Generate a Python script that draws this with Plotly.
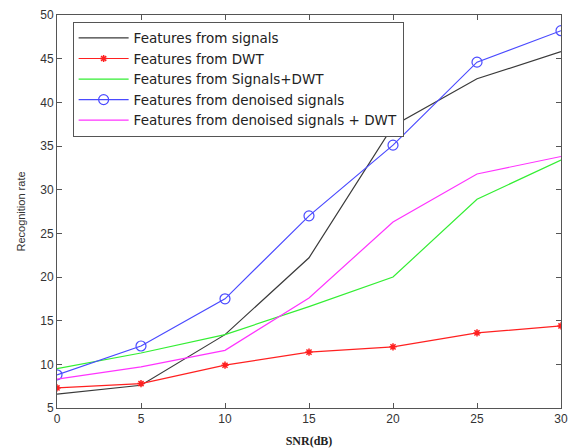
import plotly.graph_objects as go

snr = [0, 5, 10, 15, 20, 25, 30]
sig = [6.6, 7.6, 13.4, 22.2, 37.3, 42.7, 45.8]
dwt = [7.3, 7.8, 9.9, 11.4, 12.0, 13.6, 14.4]
sig_dwt = [9.5, 11.3, 13.4, 16.6, 20.0, 28.9, 33.4]
den = [8.8, 12.1, 17.5, 27.0, 35.1, 44.6, 48.2]
den_dwt = [8.3, 9.7, 11.6, 17.6, 26.3, 31.8, 33.8]

names = ["Features from signals", "Features from DWT", "Features from Signals+DWT",
         "Features from denoised signals", "Features from denoised signals + DWT"]

fig = go.Figure()
fig.add_trace(go.Scatter(x=snr, y=sig, name=names[0], mode="lines", legendgroup="a",
                         line=dict(color="#3a3a3a", width=1.2)))
fig.add_trace(go.Scatter(x=snr, y=dwt, name=names[1], mode="lines+markers", legendgroup="b",
                         line=dict(color="#ff2020", width=1.2),
                         marker=dict(symbol="asterisk-open", size=6, color="#ff2020",
                                     line=dict(color="#ff2020", width=1.5))))
fig.add_trace(go.Scatter(x=snr, y=sig_dwt, name=names[2], mode="lines", legendgroup="c",
                         line=dict(color="#33ee33", width=1.2)))
fig.add_trace(go.Scatter(x=snr, y=den, name=names[3], mode="lines+markers", legendgroup="d",
                         line=dict(color="#4a4aff", width=1.2),
                         marker=dict(symbol="circle-open", size=10, color="#4a4aff",
                                     line=dict(color="#4a4aff", width=1.2))))
fig.add_trace(go.Scatter(x=snr, y=den_dwt, name=names[4], mode="lines", legendgroup="e",
                         line=dict(color="#ff33ff", width=1.2)))

axis_common = dict(showline=True, linecolor="#555555", linewidth=1, mirror="ticks",
                   ticks="inside", ticklen=5, tickcolor="#555555", showgrid=False,
                   zeroline=False, automargin=False,
                   tickfont=dict(family="Liberation Sans, Arial", size=12, color="#333333"))
fig.update_layout(
    width=572, height=448,
    margin=dict(l=57, r=11, t=15, b=40),
    plot_bgcolor="white", paper_bgcolor="white",
    xaxis=dict(range=[0, 30], tickvals=snr, ticklabelstandoff=0, title=dict(
        text="<b>SNR(dB)</b>", font=dict(family="Liberation Serif, Times New Roman",
                                         size=12, color="#222222"), standoff=16),
        **axis_common),
    yaxis=dict(range=[5, 50], tickvals=list(range(5, 51, 5)), title=dict(
        text="Recognition rate", font=dict(family="Liberation Sans, Arial", size=11,
                                           color="#333333"), standoff=12),
        **axis_common),
    legend=dict(x=0.031, y=0.983, xanchor="left", yanchor="top",
                bgcolor="white", bordercolor="#555555", borderwidth=1,
                font=dict(family="DejaVu Sans", size=13.5, color="#222222"),
                tracegroupgap=0, itemwidth=50, traceorder="grouped"),
    showlegend=True,
)

fig.write_html("out.html")
